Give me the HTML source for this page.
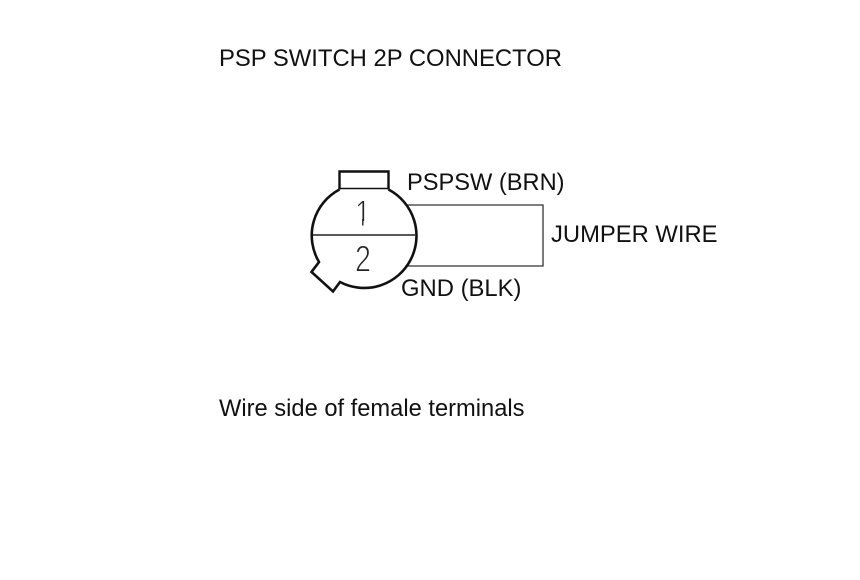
<!DOCTYPE html>
<html>
<head>
<meta charset="utf-8">
<style>
html,body{margin:0;padding:0;background:#fff}
svg{display:block}
text{font-family:"Liberation Sans",sans-serif;font-size:23.8px;fill:#111}
</style>
</head>
<body>
<svg width="860" height="580" viewBox="0 0 860 580" xmlns="http://www.w3.org/2000/svg">
<rect width="860" height="580" fill="#fff"/>
<text x="219" y="66" textLength="343" lengthAdjust="spacingAndGlyphs">PSP SWITCH 2P CONNECTOR</text>
<text x="407" y="190" textLength="157.500" lengthAdjust="spacingAndGlyphs">PSPSW (BRN)</text>
<text x="551" y="242" textLength="166.500" lengthAdjust="spacingAndGlyphs">JUMPER WIRE</text>
<text x="401" y="296" textLength="120.500" lengthAdjust="spacingAndGlyphs">GND (BLK)</text>
<text x="219" y="416" textLength="305.500" lengthAdjust="spacingAndGlyphs">Wire side of female terminals</text>
<path d="M407 205H543V266H407" fill="none" stroke="#333" stroke-width="1.3"/>
<path d="M313 235H415" fill="none" stroke="#222" stroke-width="1.5"/>
<path d="M339.500 189.500V171.500H388.500V189.500" fill="none" stroke="#111" stroke-width="2.4"/>
<path d="M339.500 188.500H388.500" fill="none" stroke="#111" stroke-width="1.6"/>
<path d="M388.500 189.500A52 52 0 1 1 340 282L333 291.500L311.500 272L319 262A52 52 0 0 1 339.500 189.500" fill="none" stroke="#111" stroke-width="2.6" stroke-linejoin="miter"/>
<text transform="translate(355 226) scale(.78 1.03)" style="font-size:36px;fill:#222;stroke:#fff;stroke-width:1px">1</text>
<rect x="353" y="221" width="20" height="6" fill="#fff"/>
<path d="M362.800 219V225.500" fill="none" stroke="#222" stroke-width="1.400"/>
<text transform="translate(355 271.500) scale(.8 1.03)" style="font-size:36px;fill:#222;stroke:#fff;stroke-width:1px">2</text>
</svg>
</body>
</html>
